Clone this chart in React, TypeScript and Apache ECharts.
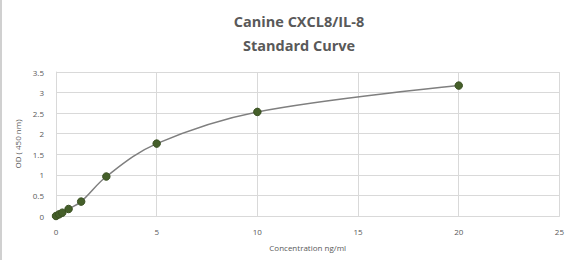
import React, { useEffect, useRef } from "react";
import * as echarts from "echarts";

const titleLines = ["Canine CXCL8/IL-8", "Standard Curve"];
const concentrations = [0, 0.156, 0.3125, 0.625, 1.25, 2.5, 5, 10, 20];
const odValues = [0.0, 0.04, 0.08, 0.17, 0.35, 0.96, 1.76, 2.53, 3.17];
const xAxisName = "Concentration ng/ml";
const yAxisName = "OD ( 450 nm)";

export default function App() {
  const ref = useRef<HTMLDivElement>(null);
  useEffect(() => {
    if (!ref.current) return;
    const chart = echarts.init(ref.current, undefined, { renderer: "svg" });
    const font = "'Open Sans', 'Liberation Sans', sans-serif";
    chart.setOption({
      animation: false,
      backgroundColor: "#ffffff",
      title: {
        text: titleLines.join("\n"),
        left: 294,
        textAlign: "center",
        top: 4,
        textStyle: {
          fontFamily: font,
          fontSize: 14.5,
          fontWeight: "bold",
          color: "#595959",
          lineHeight: 24,
        },
      },
      graphic: [
        {
          type: "rect",
          shape: { x: 0, y: 0, width: 2, height: 260 },
          style: { fill: "#d0d0d0" },
        },
      ],
      grid: { left: 56, right: 7, top: 72, bottom: 44 },
      xAxis: {
        type: "value",
        min: 0,
        max: 25,
        interval: 5,
        name: xAxisName,
        nameLocation: "middle",
        nameGap: 27,
        nameTextStyle: { fontFamily: font, fontSize: 8, color: "#595959" },
        axisLine: { show: true, lineStyle: { color: "#d9d9d9" } },
        axisTick: { show: false },
        axisLabel: { fontFamily: font, fontSize: 8, color: "#595959", margin: 11 },
        splitLine: { show: true, lineStyle: { color: "#d9d9d9", width: 1 } },
      },
      yAxis: {
        type: "value",
        min: 0,
        max: 3.5,
        interval: 0.5,
        name: yAxisName,
        nameLocation: "middle",
        nameRotate: 90,
        nameGap: 30,
        nameTextStyle: { fontFamily: font, fontSize: 8, color: "#595959" },
        axisLine: { show: true, lineStyle: { color: "#d9d9d9" } },
        axisTick: { show: false },
        axisLabel: { fontFamily: font, fontSize: 8, color: "#595959", margin: 12 },
        splitLine: { show: true, lineStyle: { color: "#d9d9d9", width: 1 } },
      },
      series: [
        {
          type: "line",
          data: concentrations.map((c, i) => [c, odValues[i]]),
          smooth: 0.35,
          symbol: "circle",
          symbolSize: 7.5,
          lineStyle: { color: "#7f7f7f", width: 1.5 },
          itemStyle: { color: "#455f2a", borderColor: "#3a5022", borderWidth: 1 },
        },
      ],
    });
    return () => chart.dispose();
  }, []);
  return (
    <div
      ref={ref}
      style={{ position: "fixed", left: 0, top: 0, width: 567, height: 260 }}
    />
  );
}
